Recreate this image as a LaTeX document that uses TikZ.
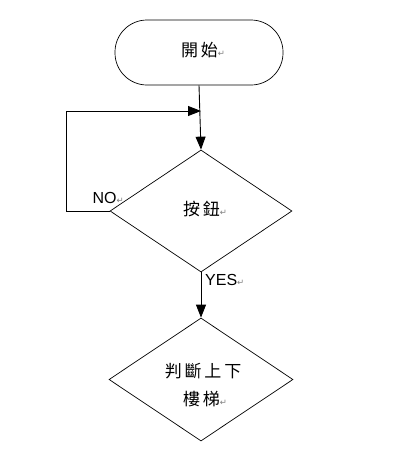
\documentclass[tikz,border=0pt]{standalone}
\usepackage{fontspec}
\setmainfont{Liberation Sans}
\newfontfamily\cjk{Noto Sans CJK TC}
\newfontfamily\symf{DejaVu Sans}
\usetikzlibrary{shapes.geometric,arrows.meta}
\newcommand{\retmark}{{\color{black!50}\symf\fontsize{8.5}{8.5}\selectfont ↵}}
\tikzset{
  line/.style={draw=black, line width=0.9pt},
  arr/.style={line, -{Triangle[length=13pt,width=10pt]}},
  decision/.style={draw=black, line width=0.7pt, diamond, inner sep=0pt},
  cjktext/.style={font=\cjk\fontsize{17}{26}\selectfont, inner sep=0pt, align=center},
  lbl/.style={font=\fontsize{16}{18}\selectfont, inner sep=0pt}
}
\begin{document}
\begin{tikzpicture}[x=1pt,y=-1pt]
\useasboundingbox (0,0) rectangle (402,461);
\fill[white] (0,0) rectangle (402,461);
\node[draw=black, line width=0.7pt, rectangle, rounded corners=32pt, minimum width=168pt, minimum height=65pt] (start) at (199,52.5) {};
\node[cjktext] (starttxt) at (203,50) {開\,始\retmark};
\node[decision, minimum width=182pt, minimum height=122pt] (btn) at (201,211) {};
\node[cjktext] (btntxt) at (205,209) {按\,鈕\retmark};
\node[decision, minimum width=184pt, minimum height=123pt] (judge) at (201,379.5) {};
\node[cjktext] (judgetxt) at (203,385) {判\,斷\,上\,下\\[2pt]\hspace{4pt}樓\,梯\retmark};
\coordinate (join) at (201,111);
\draw[arr] (start.south) -- (btn.north);
\draw[arr] (btn.west) -- (66,211) -- (66,111) -- (join);
\draw[arr] (btn.south) -- (judge.north);
\node[lbl, anchor=south east] (no) at (124,204) {NO\retmark};
\node[lbl, anchor=north west] (yes) at (205,274) {YES\retmark};
\end{tikzpicture}
\end{document}
